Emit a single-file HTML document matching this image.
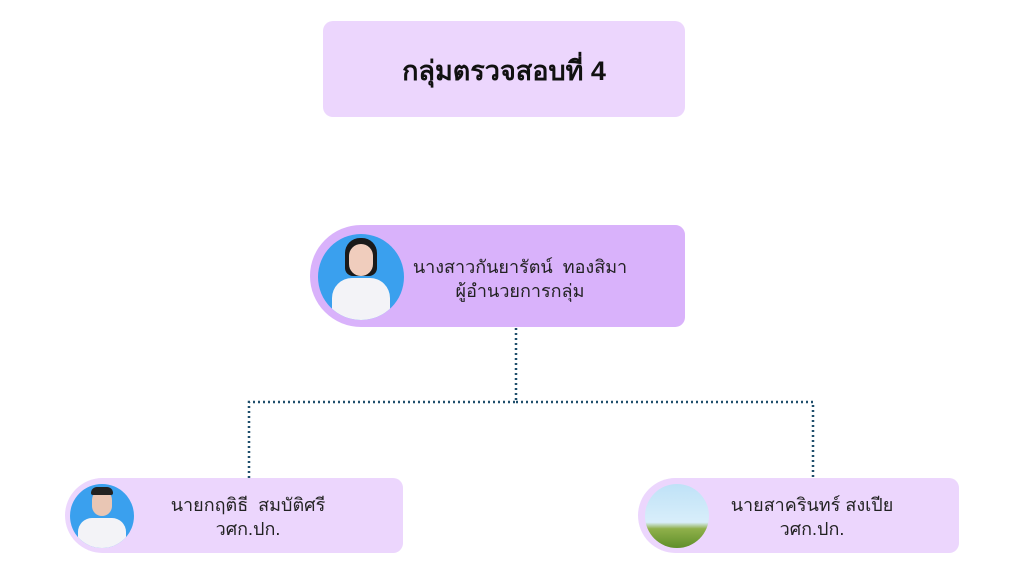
<!DOCTYPE html>
<html><head><meta charset="utf-8"><style>
body{margin:0;width:1024px;height:576px;background:#fff;position:relative;overflow:hidden;font-family:"Liberation Sans","Noto Sans CJK SC",sans-serif;}
.b{position:absolute;box-sizing:border-box;}
.t{position:absolute;text-align:center;color:#222;line-height:24px;font-size:18px;}
.av{position:absolute;border-radius:50%;overflow:hidden;}
.av i{position:absolute;display:block;}
</style></head><body>
<div class="b" style="left:323px;top:21px;width:362px;height:96px;background:#ecd6fd;border-radius:10px;"></div>
<div class="t" style="left:323px;top:56px;width:362px;font-size:27px;line-height:30px;font-weight:bold;color:#111;">กลุ่มตรวจสอบที่ 4</div>

<div class="b" style="left:310px;top:225px;width:375px;height:102px;background:#d9b2fb;border-radius:52px 10px 10px 52px;"></div>
<div class="av" style="left:318px;top:234px;width:86px;height:86px;background:#3aa0ee;">
<i style="left:14px;top:44px;width:58px;height:50px;background:#f3f3f7;border-radius:20px 20px 0 0;"></i>
<i style="left:27px;top:4px;width:32px;height:38px;background:#1a1a1a;border-radius:15px 15px 8px 8px;"></i>
<i style="left:31px;top:10px;width:24px;height:32px;background:#f0cdbd;border-radius:12px;"></i>
</div>
<div class="t" style="left:405px;top:255px;width:230px;">นางสาวกันยารัตน์&nbsp; ทองสิมา<br>ผู้อำนวยการกลุ่ม</div>

<svg class="b" style="left:0;top:0" width="1024" height="576">
<g stroke="#1f4e6b" stroke-width="2.5" stroke-dasharray="2 3" fill="none">
<path d="M516 328V402H249V478"/><path d="M516 402H813V478"/>
</g></svg>

<div class="b" style="left:65px;top:478px;width:338px;height:75px;background:#ecd6fd;border-radius:38px 10px 10px 38px;"></div>
<div class="av" style="left:70px;top:484px;width:64px;height:64px;background:#3aa0ee;">
<i style="left:8px;top:34px;width:48px;height:34px;background:#f3f3f7;border-radius:14px 14px 0 0;"></i>
<i style="left:22px;top:6px;width:20px;height:26px;background:#e9c6b4;border-radius:10px;"></i>
<i style="left:21px;top:3px;width:22px;height:8px;background:#222;border-radius:6px 6px 2px 2px;"></i>
</div>
<div class="t" style="left:150px;top:493px;width:196px;">นายกฤติธี&nbsp; สมบัติศรี<br>วศก.ปก.</div>

<div class="b" style="left:638px;top:478px;width:321px;height:75px;background:#ecd6fd;border-radius:38px 10px 10px 38px;"></div>
<div class="av" style="left:645px;top:484px;width:64px;height:64px;background:linear-gradient(#bfe2f7 0%,#d8eefa 60%,#8fb04a 70%,#5f8f2a 100%);"></div>
<div class="t" style="left:712px;top:493px;width:200px;">นายสาครินทร์ สงเปีย<br>วศก.ปก.</div>
</body></html>
